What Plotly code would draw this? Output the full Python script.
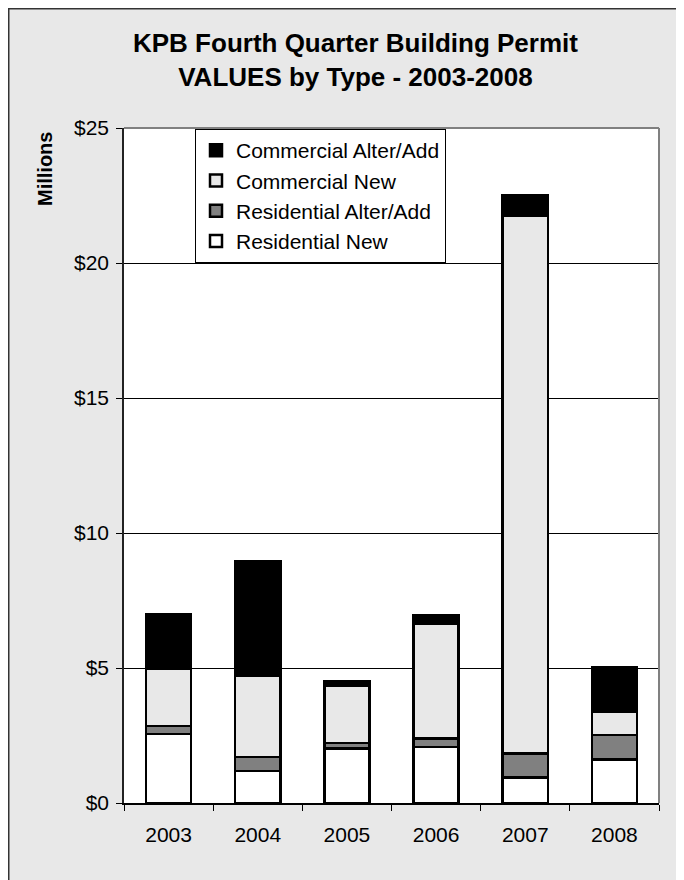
import plotly.graph_objects as go

years = ["2003", "2004", "2005", "2006", "2007", "2008"]
residential_new = [2.55, 1.18, 2.02, 2.08, 0.95, 1.62]
residential_alter = [0.30, 0.53, 0.21, 0.31, 0.89, 0.89]
commercial_new = [2.11, 2.99, 2.13, 4.25, 19.90, 0.86]
commercial_alter = [2.04, 4.27, 0.14, 0.33, 0.77, 1.64]

series = [
    ("Residential New", residential_new, "#ffffff"),
    ("Residential Alter/Add", residential_alter, "#808080"),
    ("Commercial New", commercial_new, "#e8e8e8"),
    ("Commercial Alter/Add", commercial_alter, "#000000"),
]

FONT = "Liberation Sans, Arial, sans-serif"
W, H = 684, 880
L, T = 116, 120
pw, ph = 535, 675
R, B = W - L - pw, H - T - ph


def px_x(p):
    return (p - L) / pw


def px_y(p):
    return (T + ph - p) / ph


fig = go.Figure()
for name, vals, color in series:
    fig.add_trace(go.Bar(
        x=years, y=vals, name=name,
        marker=dict(color=color, line=dict(color="#000000", width=2.5)),
    ))

fig.update_layout(
    width=W, height=H,
    margin=dict(l=L, r=R, t=T, b=B),
    barmode="stack",
    bargap=0.495,
    paper_bgcolor="#e8e8e8",
    plot_bgcolor="#ffffff",
    font=dict(family=FONT, size=21, color="#000000"),
    legend=dict(
        x=px_x(187), y=px_y(121), xanchor="left", yanchor="top",
        bgcolor="#ffffff", bordercolor="#000000", borderwidth=1,
        traceorder="reversed",
        font=dict(family=FONT, size=21, color="#000000"),
    ),
    showlegend=True,
)

fig.update_xaxes(
    showline=True, linecolor="#000000", linewidth=1.5,
    ticks="outside", tickson="boundaries", ticklen=6, tickcolor="#000000",
    ticklabelstandoff=12,
    showgrid=False,
    tickfont=dict(family=FONT, size=21),
)
fig.update_yaxes(
    range=[0, 25], dtick=5, tickprefix="$",
    showline=True, linecolor="#222222", linewidth=1.5,
    ticks="outside", ticklen=6, tickcolor="#000000",
    ticklabelstandoff=3,
    showgrid=True, gridcolor="#000000", gridwidth=1,
    zeroline=False,
    tickfont=dict(family=FONT, size=21),
)

shapes = [
    # chart area border
    dict(type="rect", xref="paper", yref="paper", layer="above",
         x0=px_x(0), x1=px_x(W), y0=px_y(H), y1=px_y(0),
         fillcolor="rgba(0,0,0,0)", line=dict(color="#333333", width=3)),
    # plot area top/right border
    dict(type="line", xref="paper", yref="paper", layer="above",
         x0=0, x1=1, y0=1, y1=1, line=dict(color="#808080", width=2)),
    dict(type="line", xref="paper", yref="paper", layer="above",
         x0=1, x1=1, y0=0, y1=1, line=dict(color="#808080", width=2)),
]
fig.update_layout(shapes=shapes)

fig.add_annotation(
    text="<b>KPB Fourth Quarter Building Permit<br>VALUES by Type - 2003-2008</b>",
    xref="paper", yref="paper",
    x=px_x(347), y=px_y(52), xanchor="center", yanchor="middle",
    showarrow=False, font=dict(family=FONT, size=26, color="#000000"),
)

fig.add_annotation(
    text="<b>Millions</b>", textangle=-90,
    xref="paper", yref="paper",
    x=px_x(37), y=px_y(161), xanchor="center", yanchor="middle",
    showarrow=False, font=dict(family=FONT, size=20, color="#000000"),
)

fig.write_html("out.html")
